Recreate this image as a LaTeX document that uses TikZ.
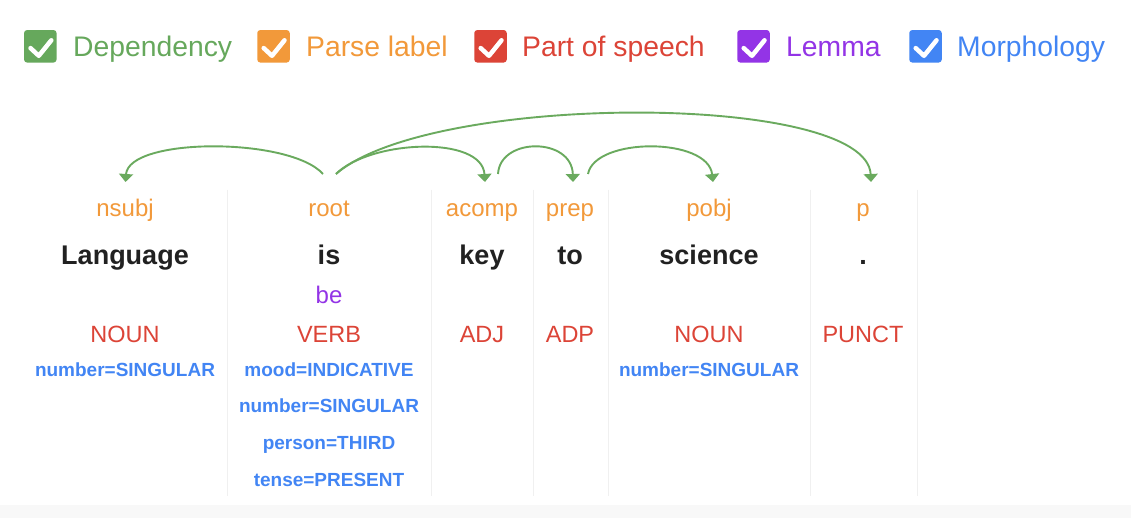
\documentclass[tikz,border=0pt]{standalone}
\usepackage{fontspec}
\setmainfont{Liberation Sans}
\usetikzlibrary{arrows.meta}
\definecolor{dgreen}{HTML}{66A85C}
\definecolor{arcgreen}{HTML}{6AAA5E}
\definecolor{lorange}{HTML}{F2993A}
\definecolor{lred}{HTML}{DC4437}
\definecolor{lpurple}{HTML}{9334E6}
\definecolor{lblue}{HTML}{4285F4}
\definecolor{wordblack}{HTML}{212121}
\definecolor{sepgray}{HTML}{F0F0F0}
\definecolor{bandgray}{HTML}{F8F8F8}
\begin{document}
\begin{tikzpicture}[x=1pt,y=-1pt,
  chk/.style={fill=#1, draw=none, rounded corners=3pt, minimum width=32.5pt, minimum height=32.5pt, inner sep=0pt},
  legtext/.style={anchor=base west, inner sep=0pt, font=\fontsize{28.3}{30}\selectfont, text=#1},
  lbltext/.style={anchor=base, inner sep=0pt, font=\fontsize{24}{26}\selectfont, text=lorange},
  wordtext/.style={anchor=base, inner sep=0pt, font=\bfseries\fontsize{27}{29}\selectfont, text=wordblack},
  lemtext/.style={anchor=base, inner sep=0pt, font=\fontsize{24}{26}\selectfont, text=lpurple},
  postext/.style={anchor=base, inner sep=0pt, font=\fontsize{23.5}{25}\selectfont, text=lred},
  morphtext/.style={anchor=base, inner sep=0pt, font=\bfseries\fontsize{19}{21}\selectfont, text=lblue},
  sepline/.style={draw=sepgray, line width=1pt},
  deparc/.style={draw=arcgreen, line width=1.9pt, -{Triangle[width=14pt,length=8pt]}},
  tickmark/.style={draw=white, line width=4.5pt, line cap=round, line join=round}
]
\useasboundingbox (0,0) rectangle (1131,518);
\fill[white] (0,0) rectangle (1131,518);
\fill[bandgray] (0,505) rectangle (1131,518);

% legend
\foreach \n/\cx/\col in {cb1/40.3/dgreen, cb2/273.5/lorange, cb3/490.5/lred, cb4/753.5/lpurple, cb5/925.5/lblue}{
  \node[chk=\col] (\n) at (\cx,46.3) {};
  \draw[tickmark] ([shift={(-9.8,1.8)}]\n.center) -- ([shift={(-1.5,9.5)}]\n.center) -- ([shift={(11,-6)}]\n.center);
}
\node[legtext=dgreen] (lg1) at (73,56.5) {Dependency};
\node[legtext=lorange] (lg2) at (306,56.5) {Parse label};
\node[legtext=lred] (lg3) at (522,56.5) {Part of speech};
\node[legtext=lpurple] (lg4) at (786,56.5) {Lemma};
\node[legtext=lblue] (lg5) at (957,56.5) {Morphology};

% column separators
\foreach \x in {227.5,431,533,608,810,917}{
  \draw[sepline] (\x,190) -- (\x,496);
}

% column 1
\node[lbltext] (l1) at (125,217) {nsubj};
\node[wordtext] (w1) at (125,265) {Language};
\node[postext] (p1) at (125,342) {NOUN};
\node[morphtext] (m1) at (125,376) {number=SINGULAR};
% column 2
\node[lbltext] (l2) at (329,217) {root};
\node[wordtext] (w2) at (329,265) {is};
\node[lemtext] (e2) at (329,304) {be};
\node[postext] (p2) at (329,342) {VERB};
\node[morphtext] (m2a) at (329,376) {mood=INDICATIVE};
\node[morphtext] (m2b) at (329,412.5) {number=SINGULAR};
\node[morphtext] (m2c) at (329,449) {person=THIRD};
\node[morphtext] (m2d) at (329,486) {tense=PRESENT};
% column 3
\node[lbltext] (l3) at (482,217) {acomp};
\node[wordtext] (w3) at (482,265) {key};
\node[postext] (p3) at (482,342) {ADJ};
% column 4
\node[lbltext] (l4) at (570,217) {prep};
\node[wordtext] (w4) at (570,265) {to};
\node[postext] (p4) at (570,342) {ADP};
% column 5
\node[lbltext] (l5) at (709,217) {pobj};
\node[wordtext] (w5) at (709,265) {science};
\node[postext] (p5) at (709,342) {NOUN};
\node[morphtext] (m5) at (709,376) {number=SINGULAR};
% column 6
\node[lbltext] (l6) at (863,217) {p};
\node[wordtext] (w6) at (863,265) {.};
\node[postext] (p6) at (863,342) {PUNCT};

% arc anchors
\coordinate (hroot1) at (323,174);
\coordinate (hroot2) at (336,174);
\coordinate (hacomp) at (498,174);
\coordinate (hprep) at (588,174);
\coordinate (dnsubj) at (125.5,182);
\coordinate (dacomp) at (485,182);
\coordinate (dprep) at (573,182);
\coordinate (dpobj) at (713,182);
\coordinate (dp) at (871,182);

% dependency arcs
\draw[deparc] (hroot1) .. controls +(-33,-37) and +(3,-45) .. (dnsubj);
\draw[deparc] (hroot2) .. controls +(34,-34) and +(-3,-47) .. (dacomp);
\draw[deparc] (hroot2) .. controls +(94,-82) and +(-4,-90) .. (dp);
\draw[deparc] (hacomp) .. controls +(2,-37) and +(-1,-45) .. (dprep);
\draw[deparc] (hprep) .. controls +(7,-37) and +(-5,-45) .. (dpobj);
\end{tikzpicture}
\end{document}
